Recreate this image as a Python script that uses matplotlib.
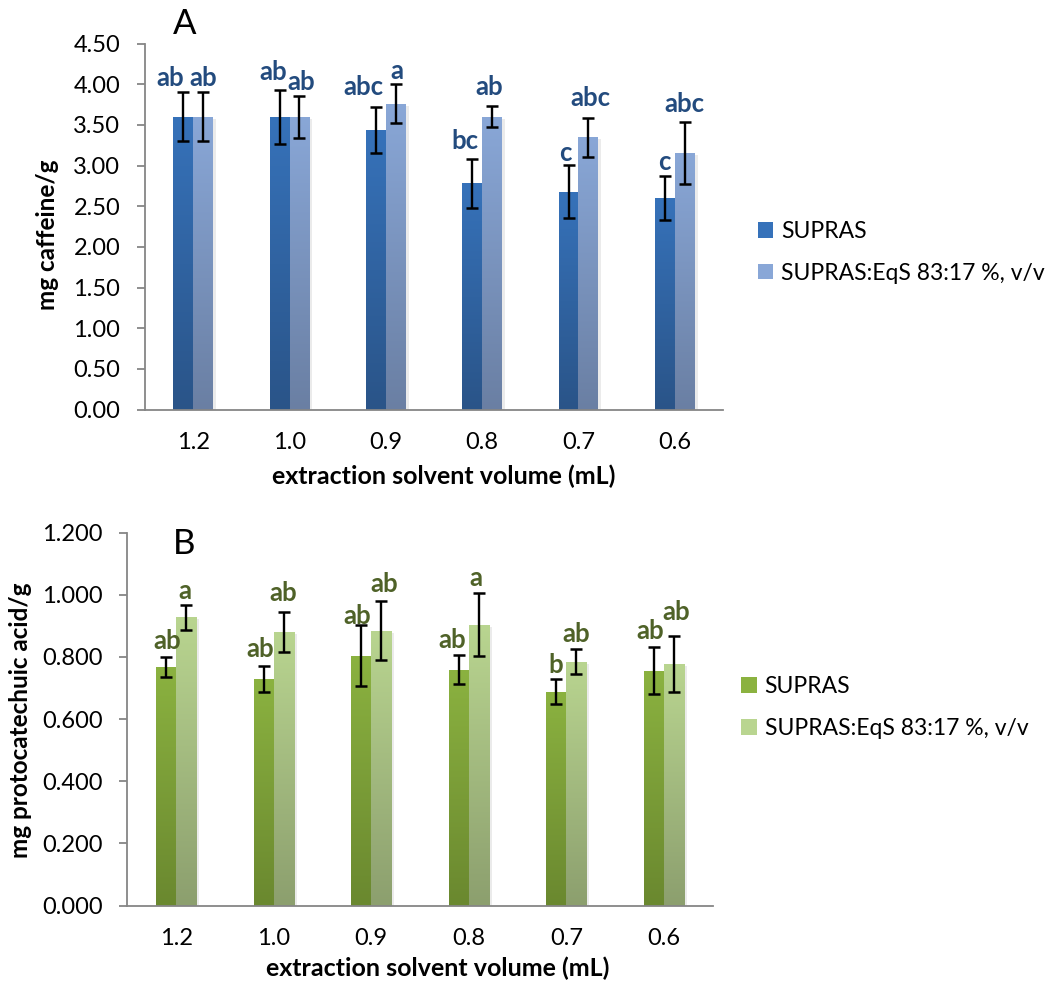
import matplotlib
matplotlib.use('Agg')
import matplotlib.pyplot as plt
import numpy as np
from matplotlib.colors import LinearSegmentedColormap
from matplotlib.patches import Patch, Rectangle
import matplotlib.transforms as mtransforms

plt.rcParams['font.family'] = ['Lato', 'DejaVu Sans']

volumes = ['1.2', '1.0', '0.9', '0.8', '0.7', '0.6']
series_names = ['SUPRAS', 'SUPRAS:EqS 83:17 %, v/v']

# caffeine (mg/g)
caffeine_supras = [3.60, 3.60, 3.44, 2.78, 2.68, 2.60]
caffeine_supras_err = [0.30, 0.33, 0.28, 0.30, 0.33, 0.27]
caffeine_eqs = [3.60, 3.60, 3.76, 3.60, 3.35, 3.15]
caffeine_eqs_err = [0.30, 0.26, 0.24, 0.13, 0.24, 0.38]
caffeine_letters_supras = ['ab', 'ab', 'abc', 'bc', 'c', 'c']
caffeine_letters_eqs = ['ab', 'ab', 'a', 'ab', 'abc', 'abc']

# protocatechuic acid (mg/g)
pca_supras = [0.768, 0.730, 0.804, 0.759, 0.688, 0.756]
pca_supras_err = [0.033, 0.042, 0.098, 0.047, 0.040, 0.076]
pca_eqs = [0.928, 0.881, 0.884, 0.904, 0.785, 0.777]
pca_eqs_err = [0.040, 0.064, 0.095, 0.100, 0.039, 0.090]
pca_letters_supras = ['ab', 'ab', 'ab', 'ab', 'b', 'ab']
pca_letters_eqs = ['a', 'ab', 'ab', 'a', 'ab', 'ab']

# letter nudges in pixels (dx, gap above the error bar)
nudge_a = [[(-13, 14), (-6, 18), (-13, 20), (-7, 18), (-3, 12), (-1, 14)],
           [(0, 14), (2, 14), (1, 13), (-3, 19), (2, 20), (0, 18)]]
nudge_b = [[(1, 16), (-3, 17), (-4, 9), (-7, 15), (-1, 14), (-4, 16)],
           [(-1, 14), (0, 19), (3, 17), (-3, 15), (0, 15), (2, 24)]]

blues = [('#2a5488', '#3672ba'), ('#6a7fa3', '#89a7d7')]
greens = [('#6a882f', '#8bb240'), ('#8c9f6e', '#b9d590')]

GRAY = '#868686'
BAR_W = 0.205
PX = 72.0 / 100  # points per pixel


def gradient_bars(ax, xs, heights, colors):
    cmap = LinearSegmentedColormap.from_list('g', colors)
    grad = np.linspace(0, 1, 256).reshape(-1, 1)
    rects = ax.bar(xs, heights, BAR_W, color='none', zorder=2)
    shadow = mtransforms.offset_copy(ax.transData, fig=ax.figure, x=3, y=-2, units='dots')
    for r in rects:
        x0, w, h = r.get_x(), r.get_width(), r.get_height()
        ax.add_patch(Rectangle((x0, 0), w, h, facecolor='#000000', alpha=0.08,
                               transform=shadow, zorder=1.5, lw=0))
        ax.imshow(grad, extent=[x0, x0 + w, 0, h], origin='lower', cmap=cmap,
                  aspect='auto', zorder=2, interpolation='bicubic')
    return rects


def draw_panel(ax, s1, e1, s2, e2, l1, l2, nudges, colors, txt_color, ymax, ystep, fmt,
               ylabel, letter, letter_xy, xlabel_xy, ylabel_xy, legend_xy):
    x = np.arange(len(volumes))
    xs1 = x - BAR_W / 2
    xs2 = x + BAR_W / 2
    gradient_bars(ax, xs1, s1, colors[0])
    gradient_bars(ax, xs2, s2, colors[1])
    for xs, vals, errs in [(xs1, s1, e1), (xs2, s2, e2)]:
        ax.errorbar(xs, vals, yerr=errs, fmt='none', ecolor='black', elinewidth=1.7,
                    capsize=4.5, capthick=1.8, zorder=4)
    for k, (xs, vals, errs, labs) in enumerate([(xs1, s1, e1, l1), (xs2, s2, e2, l2)]):
        for i in range(len(xs)):
            dx, gap = nudges[k][i]
            ax.annotate(labs[i], (xs[i], vals[i] + errs[i]), xytext=(dx * PX, gap * PX),
                        textcoords='offset points', ha='center', va='center',
                        fontsize=18.5, fontweight='bold', color=txt_color, zorder=5)

    ax.set_xlim(-0.5, len(volumes) - 0.5)
    ax.set_ylim(0, ymax)
    ax.set_yticks(np.arange(0, ymax + ystep / 2, ystep))
    ax.set_yticklabels([fmt.format(v) for v in np.arange(0, ymax + ystep / 2, ystep)])
    ax.set_xticks(x)
    ax.set_xticklabels(volumes)
    for s in ['top', 'right']:
        ax.spines[s].set_visible(False)
    for s in ['left', 'bottom']:
        ax.spines[s].set_color(GRAY)
        ax.spines[s].set_linewidth(1.3)
    ax.tick_params(axis='y', length=5.8, width=1.3, color=GRAY, pad=12, labelsize=17)
    ax.tick_params(axis='x', length=0, pad=16, labelsize=17)

    ax.set_xlabel('extraction solvent volume (mL)', fontsize=18, fontweight='bold')
    ax.xaxis.set_label_coords(*xlabel_xy)
    ax.xaxis.label.set_va('center')
    ax.set_ylabel(ylabel, fontsize=17.5, fontweight='bold')
    ax.yaxis.set_label_coords(*ylabel_xy)
    ax.yaxis.label.set_va('center')

    ax.text(letter_xy[0], letter_xy[1], letter, transform=ax.transAxes, fontsize=25,
            ha='center', va='center')

    handles = [Patch(facecolor=colors[0][1]), Patch(facecolor=colors[1][1])]
    ax.figure.legend(handles, series_names, loc='center left', bbox_to_anchor=legend_xy,
                     frameon=False, fontsize=16.5, handlelength=0.68, handleheight=0.68,
                     handletextpad=0.35, labelspacing=0.9, borderpad=0, borderaxespad=0)


fig = plt.figure(figsize=(10.57, 9.89), dpi=100)
ax_a = fig.add_axes([0.1372, 0.5859, 0.5468, 0.3701])
ax_b = fig.add_axes([0.1204, 0.0844, 0.5539, 0.3771])

draw_panel(ax_a, caffeine_supras, caffeine_supras_err, caffeine_eqs, caffeine_eqs_err,
           caffeine_letters_supras, caffeine_letters_eqs, nudge_a, blues, '#234b7e',
           4.5, 0.5, '{:.2f}', 'mg caffeine/g', 'A', (0.069, 1.052),
           (0.517, -0.182), (-0.168, 0.477), (0.717, 0.7450))

draw_panel(ax_b, pca_supras, pca_supras_err, pca_eqs, pca_eqs_err,
           pca_letters_supras, pca_letters_eqs, nudge_b, greens, '#4f6228',
           1.2, 0.2, '{:.3f}', 'mg protocatechuic acid/g', 'B', (0.0977, 0.9705),
           (0.531, -0.168), (-0.1816, 0.497), (0.701, 0.2846))

fig.savefig('out.png', dpi=100)
